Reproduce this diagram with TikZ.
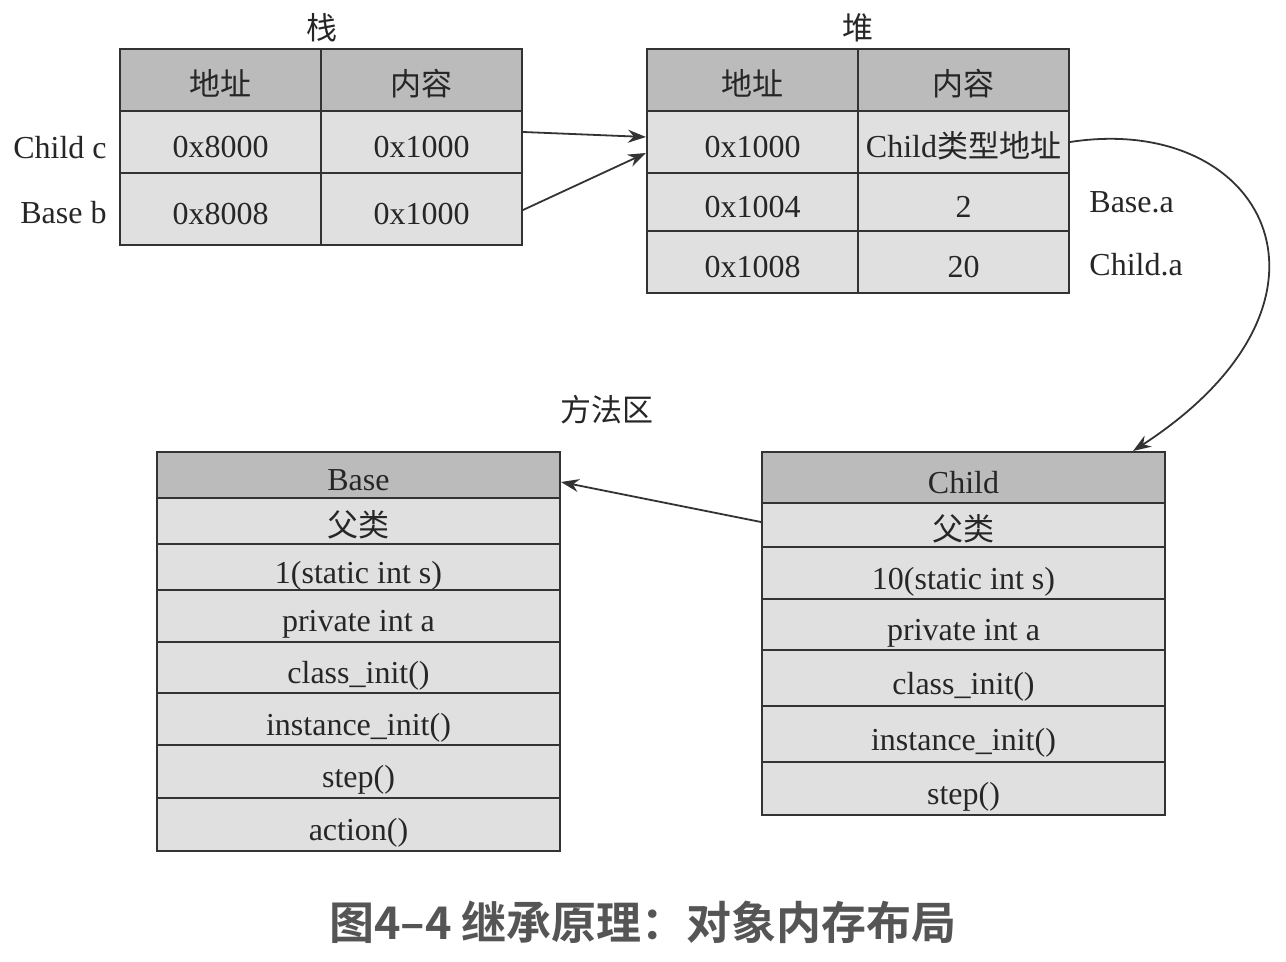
\documentclass[tikz,border=0pt]{standalone}
\usepackage{fontspec}
\setmainfont{Liberation Serif}
\newfontfamily\cjk{Noto Sans CJK SC}
\newfontfamily\capfont{Noto Sans CJK SC Bold}
\usepackage{tikz}
\usetikzlibrary{arrows.meta, positioning}
\definecolor{headGrey}{RGB}{187,187,187}
\definecolor{cellGrey}{RGB}{224,224,224}
\definecolor{lineDark}{RGB}{51,51,51}
\definecolor{capGrey}{RGB}{85,85,85}
\newcommand{\zh}[1]{{\cjk\fontsize{15.5}{19}\selectfont #1}}
\tikzset{
  cell/.style={draw=lineDark, fill=cellGrey, line width=1pt, inner sep=0pt, text=black!85,
    text height=16pt, text depth=0pt, font=\fontsize{16}{19}\selectfont},
  head/.style={cell, fill=headGrey},
  side/.style={inner sep=0pt, text=black!85, font=\fontsize{16}{19}\selectfont},
  ptr/.style={line width=0.9pt, lineDark, -{Stealth[length=9pt, width=6.5pt]}}
}

\begin{document}
\begin{tikzpicture}[x=0.5pt, y=-0.5pt, style={line cap = round}]
  \useasboundingbox (0,0) rectangle (1286,962);
  % stack
  \node[side] (tstack) at (322,28) {\zh{栈}};
  \node[head, minimum width=100.5pt, minimum height=31pt] (s01) at (220.5,80) {\zh{地址}};
  \node[head, minimum width=100.5pt, minimum height=31pt] (s02) at (421.5,80) {\zh{内容}};
  \node[cell, minimum width=100.5pt, minimum height=31pt] (s11) at (220.5,142) {0x8000};
  \node[cell, minimum width=100.5pt, minimum height=31pt] (s12) at (421.5,142) {0x1000};
  \node[cell, minimum width=100.5pt, minimum height=36pt] (s21) at (220.5,209) {0x8008};
  \node[cell, minimum width=100.5pt, minimum height=36pt] (s22) at (421.5,209) {0x1000};
  \node[side, left=6pt of s11, yshift=-3pt] (lchild) {Child c};
  \node[side, left=6pt of s21, yshift=-2pt] (lbase) {Base b};
  % heap
  \node[side] (theap) at (858,28) {\zh{堆}};
  \node[head, minimum width=105.5pt, minimum height=31pt] (h01) at (752.5,80) {\zh{地址}};
  \node[head, minimum width=105.5pt, minimum height=31pt] (h02) at (963.5,80) {\zh{内容}};
  \node[cell, minimum width=105.5pt, minimum height=31pt] (h11) at (752.5,142) {0x1000};
  \node[cell, minimum width=105.5pt, minimum height=31pt] (h12) at (963.5,142) {Child\zh{类型地址}};
  \node[cell, minimum width=105.5pt, minimum height=29pt] (h21) at (752.5,202) {0x1004};
  \node[cell, minimum width=105.5pt, minimum height=29pt] (h22) at (963.5,202) {2};
  \node[cell, minimum width=105.5pt, minimum height=31pt] (h31) at (752.5,262) {0x1008};
  \node[cell, minimum width=105.5pt, minimum height=31pt] (h32) at (963.5,262) {20};
  \node[side, right=9.5pt of h22] (lbasea) {Base.a};
  \node[side, right=9.5pt of h32, yshift=-1.5pt] (lchilda) {Child.a};
  % method area
  \node[side] (tmethod) at (607,410) {\zh{方法区}};
  \node[head, minimum width=201.5pt, minimum height=23pt] (base0) at (358.5,475) {Base};
  \foreach \n/\ya/\yb/\txt in {1/498/544/\zh{父类}, 2/544/590/1(static int s), 3/590/642/private int a,
      4/642/693/class\_init(), 5/693/745/instance\_init(), 6/745/798/step(), 7/798/851/action()}
  {
    \pgfmathsetmacro\hh{(\yb-\ya)/2}
    \node[cell, minimum width=201.5pt, minimum height=\hh pt] (base\n) at (358.5,{(\ya+\yb)/2}) {\txt};
  }
  \node[head, minimum width=201.5pt, minimum height=25.5pt] (child0) at (963.5,477.5) {Child};
  \foreach \n/\ya/\yb/\txt in {1/503/547/\zh{父类}, 2/547/599/10(static int s), 3/599/650/private int a,
      4/650/706/class\_init(), 5/706/762/instance\_init(), 6/762/815/step()}
  {
    \pgfmathsetmacro\hh{(\yb-\ya)/2}
    \node[cell, minimum width=201.5pt, minimum height=\hh pt] (child\n) at (963.5,{(\ya+\yb)/2}) {\txt};
  }
  % pointers
  \draw[ptr] ([yshift=5pt]s12.east) -- ([yshift=2.5pt]h11.west);
  \draw[ptr] ([yshift=-0.5pt]s22.east) -- ([yshift=-5.5pt]h11.west);
  \draw[ptr] (h12.east) .. controls (1265,112) and (1365,300) .. ([xshift=84.75pt]child0.north);
  \draw[ptr] ([yshift=1.5pt]child1.west) -- ([yshift=-3.5pt]base0.east);
  % caption
  \node[text=capGrey, font=\capfont\fontsize{22.5}{27}\selectfont] (caption) at (643,922) {图4–4 继承原理：对象内存布局};
\end{tikzpicture}
\end{document}
